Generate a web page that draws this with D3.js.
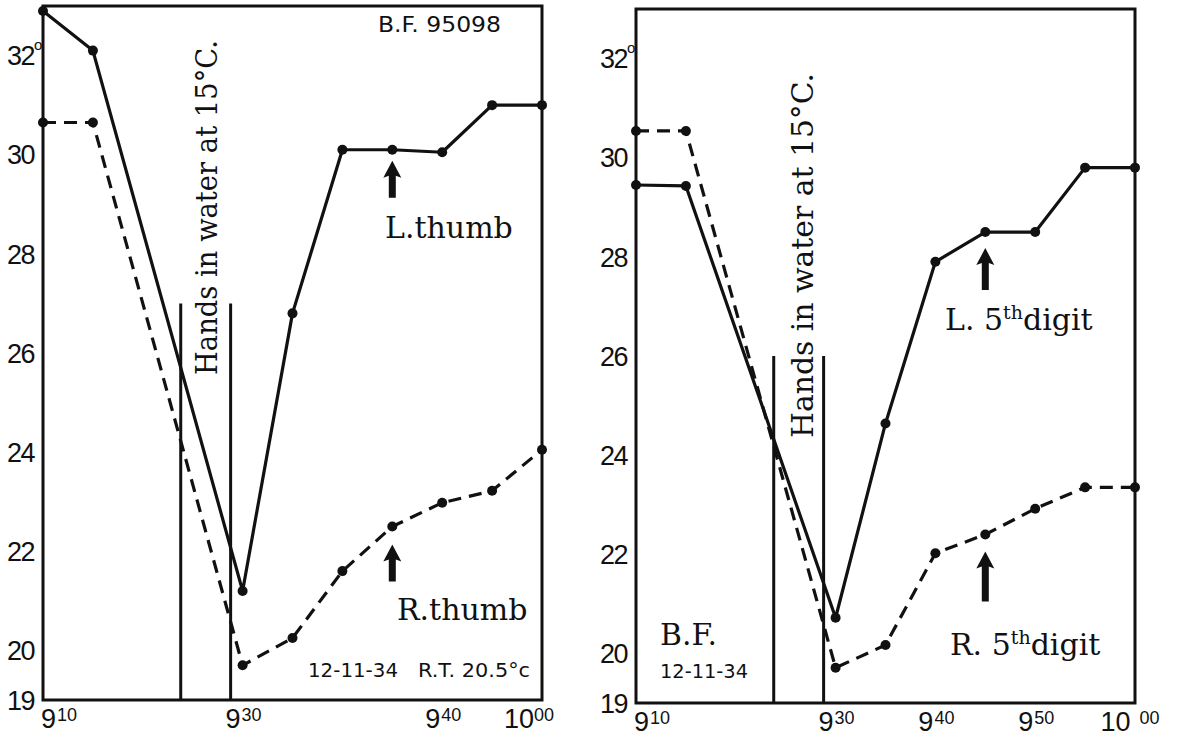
<!DOCTYPE html>
<html>
<head>
<meta charset="utf-8">
<script src="https://cdn.jsdelivr.net/npm/d3@7"></script>
<style>
body { margin: 0; background: #fff; }
svg { display: block; }
</style>
</head>
<body>
<div id="chart"></div>
<script>
// readings, minutes after 9 o'clock
var times = [10, 15, 30, 35, 40, 45, 50, 55, 60];

var lThumb = [32.9, 32.1, 21.2, 26.8, 30.1, 30.1, 30.05, 31.0, 31.0];
var rThumb = [30.65, 30.65, 19.7, 20.25, 21.6, 22.5, 22.98, 23.22, 24.05];
var l5th = [29.45, 29.43, 20.72, 24.64, 27.9, 28.5, 28.5, 29.8, 29.8];
var r5th = [30.54, 30.54, 19.71, 20.17, 22.02, 22.4, 22.92, 23.35, 23.35];

// hands in water (start, end), minutes
var immersion = [23.8, 28.8];

var yTicks = [19, 20, 22, 24, 26, 28, 30, 32];
var leftXTicks = [10, 30, 50, 60];
var leftXLabels = [["9", "10"], ["9", "30"], ["9", "40"], ["10", "00"]];
var rightXTicks = [10, 30, 40, 50, 60];
var rightXLabels = [["9", "10"], ["9", "30"], ["9", "40"], ["9", "50"], ["10", "00"]];

var W = 1179, H = 738;
var pw = 499, ph = 694;

var svg = d3.select("#chart").append("svg").attr("width", W).attr("height", H);

var numFont = "'Liberation Sans', Arial, sans-serif";
var letterFont = "'DejaVu Serif', serif";
var noteFont = "'DejaVu Sans', sans-serif";

function arrowPath(cx, tip, len) {
    return "M" + cx + "," + tip +
        " L" + (cx + 9) + "," + (tip + 17) +
        " L" + (cx + 3.5) + "," + (tip + 15) +
        " L" + (cx + 3.5) + "," + (tip + len) +
        " L" + (cx - 3.5) + "," + (tip + len) +
        " L" + (cx - 3.5) + "," + (tip + 15) +
        " L" + (cx - 9) + "," + (tip + 17) + " Z";
}

function drawPanel(p) {
    var g = svg.append("g").attr("transform", "translate(" + p.left + "," + p.top + ")");

    var x = d3.scaleLinear().domain([10, 60]).range([0, pw]);
    var y = d3.scaleLinear().domain([19, 33]).range([ph, 0]);

    // frame
    g.append("rect")
        .attr("x", 0).attr("y", 0)
        .attr("width", pw).attr("height", ph)
        .attr("fill", "none").attr("stroke", "#111").attr("stroke-width", 3);

    // y labels
    g.selectAll(".ylab").data(yTicks).enter()
        .append("text")
        .attr("class", "ylab")
        .text(function(d){ return d; })
        .attr("x", -9)
        .attr("y", function(d){ return y(d); })
        .attr("dy", "0.36em")
        .attr("text-anchor", "end")
        .attr("font-family", numFont)
        .attr("font-size", 27)
        .attr("letter-spacing", -1.5)
        .attr("fill", "#111");

    g.append("text").text("o")
        .attr("x", -9).attr("y", y(32) - 6)
        .attr("font-family", numFont).attr("font-size", 15)
        .attr("fill", "#111");

    // x labels
    var xl = g.selectAll(".xlab").data(p.xTicks).enter()
        .append("text")
        .attr("class", "xlab")
        .attr("x", function(d, i){
            var off = 1;
            if (i == 0) off = 16;
            if (i == p.xTicks.length - 1) off = p.lastOff;
            return x(d) + off;
        })
        .attr("y", ph + 28)
        .attr("text-anchor", "middle")
        .attr("font-family", numFont)
        .attr("fill", "#111");
    xl.append("tspan")
        .text(function(d, i){ return p.xLabels[i][0]; })
        .attr("font-size", 27);
    xl.append("tspan")
        .text(function(d, i){ return p.xLabels[i][1]; })
        .attr("dx", function(d, i){ return p.xLabels[i][0] == "10" ? p.hourGap : 1; })
        .attr("dy", -7)
        .attr("font-size", 18);

    // hands-in-water markers
    g.selectAll(".imm").data(immersion).enter()
        .append("line")
        .attr("class", "imm")
        .attr("x1", function(d){ return x(d); })
        .attr("x2", function(d){ return x(d); })
        .attr("y1", y(p.immTop))
        .attr("y2", ph)
        .attr("stroke", "#111").attr("stroke-width", 3);

    g.append("text")
        .text("Hands in water at 15°C.")
        .attr("transform", "translate(" + p.rotX + "," + p.rotY + ") rotate(-90)")
        .attr("font-family", letterFont)
        .attr("font-size", 29)
        .attr("textLength", p.rotLen)
        .attr("lengthAdjust", "spacingAndGlyphs")
        .attr("fill", "#111");

    // series
    var line = d3.line()
        .x(function(d, i){ return x(times[i]); })
        .y(function(d){ return y(d); });

    p.series.forEach(function(s) {
        g.append("path")
            .datum(s.values)
            .attr("d", line)
            .attr("fill", "none")
            .attr("stroke", "#111")
            .attr("stroke-width", 3.2)
            .attr("stroke-linejoin", "round")
            .attr("stroke-dasharray", s.dashed ? "13,8" : null);

        g.selectAll(".dot" + s.key).data(s.values).enter()
            .append("circle")
            .attr("cx", function(d, i){ return x(times[i]); })
            .attr("cy", function(d){ return y(d); })
            .attr("r", 5)
            .attr("fill", "#111");

        var ai = times.indexOf(45);
        g.append("path")
            .attr("d", arrowPath(x(45), y(s.values[ai]) + s.arrowGap, s.arrowLen))
            .attr("fill", "#111");

        var t = g.append("text")
            .attr("x", s.labX).attr("y", s.labY)
            .attr("font-family", letterFont)
            .attr("font-size", 30)
            .attr("fill", "#111");
        t.append("tspan").text(s.label[0]);
        if (s.label.length > 1) {
            t.append("tspan").text(s.label[1]).attr("font-size", 19).attr("dy", -11);
            t.append("tspan").text(s.label[2]).attr("dy", 11);
        }
    });

    // notes
    p.notes.forEach(function(n) {
        g.append("text")
            .text(n.text)
            .attr("x", n.x).attr("y", n.y)
            .attr("font-family", n.font)
            .attr("font-size", n.size)
            .attr("textLength", n.len)
            .attr("lengthAdjust", "spacingAndGlyphs")
            .attr("fill", "#111");
    });
}

drawPanel({
    left: 43, top: 6,
    xTicks: leftXTicks, xLabels: leftXLabels, lastOff: -13, hourGap: 0,
    immTop: 27.0,
    rotX: 174, rotY: 369, rotLen: 335,
    series: [
        { key: "lt", values: lThumb, dashed: false, label: ["L.thumb"], labX: 342, labY: 232, arrowGap: 11, arrowLen: 37 },
        { key: "rt", values: rThumb, dashed: true, label: ["R.thumb"], labX: 354, labY: 614, arrowGap: 18, arrowLen: 37 }
    ],
    notes: [
        { text: "B.F. 95098", x: 335, y: 26, size: 21, len: 123, font: noteFont },
        { text: "12-11-34", x: 265, y: 671, size: 20, len: 90, font: noteFont },
        { text: "R.T. 20.5°c", x: 375, y: 671, size: 20, len: 112, font: noteFont }
    ]
});

drawPanel({
    left: 636, top: 9,
    xTicks: rightXTicks, xLabels: rightXLabels, lastOff: -5, hourGap: 9,
    immTop: 26.0,
    rotX: 177, rotY: 429, rotLen: 365,
    series: [
        { key: "l5", values: l5th, dashed: false, label: ["L. 5", "th", "digit"], labX: 309, labY: 321, arrowGap: 16, arrowLen: 42 },
        { key: "r5", values: r5th, dashed: true, label: ["R. 5", "th", "digit"], labX: 314, labY: 646, arrowGap: 17, arrowLen: 50 }
    ],
    notes: [
        { text: "B.F.", x: 24, y: 636, size: 30, len: 57, font: letterFont },
        { text: "12-11-34", x: 24, y: 669, size: 20, len: 88, font: noteFont }
    ]
});
</script>
</body>
</html>
